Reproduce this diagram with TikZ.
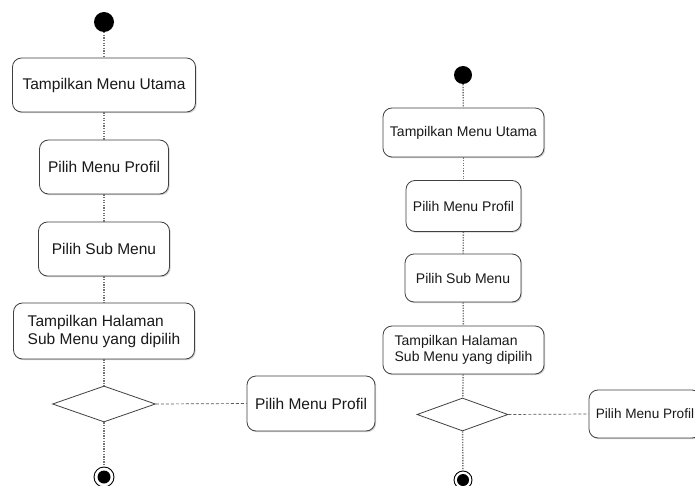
\documentclass[tikz,border=0pt]{standalone}
\usepackage{fontspec}
\setmainfont{Liberation Sans}
\usetikzlibrary{shapes.geometric,shadows}
\tikzset{
  act/.style={draw=black!75, line width=0.8pt, rounded corners=9pt, fill=white,
    drop shadow={shadow xshift=1.2pt, shadow yshift=-1.2pt, fill=black!35},
    text=black!90, inner sep=0pt, align=center},
  bigtxt/.style={font=\fontsize{15.5}{18}\selectfont},
  smalltxt/.style={font=\fontsize{14}{15.5}\selectfont},
  edgetxt/.style={font=\fontsize{13.6}{15.5}\selectfont},
  dec/.style={draw=black!75, line width=0.8pt, diamond, aspect=2.8, fill=white, inner sep=0pt},
  startdot/.style={circle, fill=black, inner sep=0pt},
  enddot/.style={circle, draw=black, line width=0.9pt, fill=white, inner sep=0pt},
  flow/.style={draw=black!55, line width=1.4pt, dash pattern=on 1.3pt off 1.3pt},
  side/.style={draw=black!65, line width=0.7pt, dash pattern=on 3pt off 2pt},
}
\begin{document}
\begin{tikzpicture}[x=1pt,y=-1pt]
\clip (0,0) rectangle (695,486);
\fill[white] (0,0) rectangle (695,486);
% ---------- left diagram ----------
\node[startdot, minimum size=20pt] (s1) at (104,22) {};
\node[act, bigtxt, minimum width=183pt, minimum height=54pt] (a1) at (104,85) {Tampilkan Menu Utama};
\node[act, bigtxt, minimum width=129pt, minimum height=54pt] (a2) at (104,167) {Pilih Menu Profil};
\node[act, bigtxt, minimum width=131pt, minimum height=54pt] (a3) at (104,249) {Pilih Sub Menu};
\node[act, bigtxt, minimum width=181pt, minimum height=56pt, align=left] (a4) at (104,331) {Tampilkan Halaman\\Sub Menu yang dipilih};
\node[dec, minimum width=103pt, minimum height=36pt] (d1) at (104,404) {};
\node[act, bigtxt, minimum width=128pt, minimum height=55pt] (p1) at (311,403.5) {Pilih Menu Profil};
\node[enddot, minimum size=20pt] (e1) at (104,477) {};
\node[startdot, minimum size=13pt] (e1i) at (104,477) {};
\draw[flow] (s1) -- (a1);
\draw[flow] (a1) -- (a2);
\draw[flow] (a2) -- (a3);
\draw[flow] (a3) -- (a4);
\draw[flow] (a4) -- (d1);
\draw[flow] (d1) -- (e1);
\draw[side] (d1.east) -- (p1.west);
% ---------- right diagram ----------
\node[startdot, minimum size=18pt] (s2) at (463,75) {};
\node[act, smalltxt, minimum width=161pt, minimum height=49pt] (b1) at (463.5,132.5) {Tampilkan Menu Utama};
\node[act, smalltxt, minimum width=115pt, minimum height=51pt] (b2) at (463.5,206) {Pilih Menu Profil};
\node[act, smalltxt, minimum width=116pt, minimum height=48pt] (b3) at (463,278) {Pilih Sub Menu};
\node[act, smalltxt, minimum width=161pt, minimum height=48pt, align=left] (b4) at (463.5,350) {Tampilkan Halaman\\Sub Menu yang dipilih};
\node[dec, minimum width=91pt, minimum height=33pt] (d2) at (462.5,414.5) {};
\node[act, edgetxt, minimum width=112pt, minimum height=48pt] (p2) at (645,414) {Pilih Menu Profil};
\node[enddot, minimum size=18pt] (e2) at (463,480) {};
\node[startdot, minimum size=12pt] (e2i) at (463,480) {};
\draw[flow] (s2) -- (b1);
\draw[flow] (b1) -- (b2);
\draw[flow] (b2) -- (b3);
\draw[flow] (b3) -- (b4);
\draw[flow] (b4) -- (d2);
\draw[flow] (d2) -- (e2);
\draw[side] (d2.east) -- (p2.west);
\end{tikzpicture}
\end{document}
